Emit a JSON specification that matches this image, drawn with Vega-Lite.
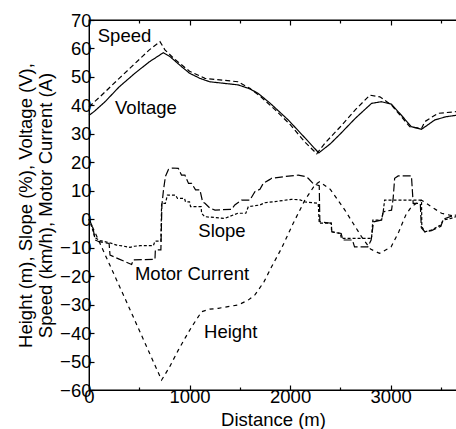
{
  "$schema": "https://vega.github.io/schema/vega-lite/v6.json",
  "autosize": "none",
  "padding": {"left": 89, "top": 20, "right": 0, "bottom": 39},
  "width": 368,
  "height": 370,
  "config": {
    "view": {"stroke": "#000", "strokeWidth": 1.3},
    "font": "Liberation Sans",
    "axis": {
      "labelFont": "Liberation Sans", "titleFont": "Liberation Sans",
      "labelFontSize": 18.5, "titleFontSize": 18.5, "titleFontWeight": "normal",
      "labelColor": "#000", "titleColor": "#000", "domainColor": "#000", "tickColor": "#000",
      "domain": true, "ticks": true,
      "domainWidth": 1, "tickWidth": 1.2, "grid": false
    }
  },
  "datasets": {
    "series": [
      {"s":"Voltage","d":0,"v":36.5},{"s":"Voltage","d":50,"v":37.8},{"s":"Voltage","d":160,"v":41.3},{"s":"Voltage","d":300,"v":46.5},{"s":"Voltage","d":457,"v":51.3},{"s":"Voltage","d":600,"v":55.3},{"s":"Voltage","d":739,"v":58.5},{"s":"Voltage","d":800,"v":57.3},{"s":"Voltage","d":921,"v":53.6},{"s":"Voltage","d":1000,"v":51.3},{"s":"Voltage","d":1103,"v":49.5},{"s":"Voltage","d":1200,"v":48.3},{"s":"Voltage","d":1484,"v":47.2},{"s":"Voltage","d":1600,"v":45.8},{"s":"Voltage","d":1683,"v":44.2},{"s":"Voltage","d":1800,"v":40.8},{"s":"Voltage","d":1981,"v":34.9},{"s":"Voltage","d":2150,"v":28.5},{"s":"Voltage","d":2285,"v":23.3},{"s":"Voltage","d":2400,"v":26.5},{"s":"Voltage","d":2500,"v":30.0},{"s":"Voltage","d":2650,"v":35.5},{"s":"Voltage","d":2810,"v":40.7},{"s":"Voltage","d":2909,"v":41.3},{"s":"Voltage","d":3009,"v":40.4},{"s":"Voltage","d":3100,"v":36.8},{"s":"Voltage","d":3207,"v":32.5},{"s":"Voltage","d":3307,"v":31.6},{"s":"Voltage","d":3440,"v":34.9},{"s":"Voltage","d":3550,"v":36.0},{"s":"Voltage","d":3650,"v":36.5},
      {"s":"Speed","d":0,"v":39.5},{"s":"Speed","d":109,"v":43.0},{"s":"Speed","d":300,"v":49.5},{"s":"Speed","d":424,"v":53.6},{"s":"Speed","d":600,"v":59.5},{"s":"Speed","d":706,"v":62.4},{"s":"Speed","d":755,"v":59.5},{"s":"Speed","d":850,"v":56.3},{"s":"Speed","d":1000,"v":52.0},{"s":"Speed","d":1153,"v":49.5},{"s":"Speed","d":1481,"v":48.3},{"s":"Speed","d":1600,"v":46.0},{"s":"Speed","d":1700,"v":43.3},{"s":"Speed","d":1850,"v":38.5},{"s":"Speed","d":2000,"v":33.3},{"s":"Speed","d":2150,"v":27.0},{"s":"Speed","d":2265,"v":23.0},{"s":"Speed","d":2346,"v":26.7},{"s":"Speed","d":2500,"v":32.5},{"s":"Speed","d":2650,"v":38.5},{"s":"Speed","d":2793,"v":43.6},{"s":"Speed","d":2893,"v":43.0},{"s":"Speed","d":3009,"v":40.1},{"s":"Speed","d":3191,"v":32.5},{"s":"Speed","d":3307,"v":31.9},{"s":"Speed","d":3340,"v":34.3},{"s":"Speed","d":3470,"v":37.2},{"s":"Speed","d":3650,"v":37.8},
      {"s":"Height","d":0,"v":0},{"s":"Height","d":360,"v":-28},{"s":"Height","d":722,"v":-56.5},{"s":"Height","d":800,"v":-52},{"s":"Height","d":888,"v":-46},{"s":"Height","d":960,"v":-41.5},{"s":"Height","d":1021,"v":-37.8},{"s":"Height","d":1120,"v":-32.5},{"s":"Height","d":1200,"v":-31.6},{"s":"Height","d":1286,"v":-31.3},{"s":"Height","d":1484,"v":-30.1},{"s":"Height","d":1580,"v":-28.5},{"s":"Height","d":1650,"v":-26.6},{"s":"Height","d":1740,"v":-22},{"s":"Height","d":1816,"v":-16.7},{"s":"Height","d":1915,"v":-10.2},{"s":"Height","d":2030,"v":-1.5},{"s":"Height","d":2147,"v":6.7},{"s":"Height","d":2246,"v":12.0},{"s":"Height","d":2293,"v":13.2},{"s":"Height","d":2400,"v":10.5},{"s":"Height","d":2545,"v":3.2},{"s":"Height","d":2710,"v":-6.1},{"s":"Height","d":2800,"v":-10.5},{"s":"Height","d":2889,"v":-12.0},{"s":"Height","d":3005,"v":-9.7},{"s":"Height","d":3080,"v":-4.5},{"s":"Height","d":3151,"v":1.5},{"s":"Height","d":3207,"v":4.4},{"s":"Height","d":3307,"v":6.7},{"s":"Height","d":3400,"v":4.5},{"s":"Height","d":3506,"v":2.1},{"s":"Height","d":3650,"v":0.9},
      {"s":"Slope","d":0,"v":0},{"s":"Slope","d":30,"v":-3},{"s":"Slope","d":60,"v":-6.5},{"s":"Slope","d":110,"v":-7.5},{"s":"Slope","d":200,"v":-8.2},{"s":"Slope","d":275,"v":-9.1},{"s":"Slope","d":350,"v":-9.5},{"s":"Slope","d":408,"v":-9.9},{"s":"Slope","d":450,"v":-9.5},{"s":"Slope","d":507,"v":-9.3},{"s":"Slope","d":640,"v":-9.3},{"s":"Slope","d":656,"v":-7.7},{"s":"Slope","d":715,"v":-7.7},{"s":"Slope","d":722,"v":5.6},{"s":"Slope","d":760,"v":5.6},{"s":"Slope","d":780,"v":8.5},{"s":"Slope","d":860,"v":8.5},{"s":"Slope","d":880,"v":7.3},{"s":"Slope","d":950,"v":7.3},{"s":"Slope","d":960,"v":6.1},{"s":"Slope","d":1000,"v":6.1},{"s":"Slope","d":1010,"v":4.4},{"s":"Slope","d":1115,"v":4.4},{"s":"Slope","d":1120,"v":2.1},{"s":"Slope","d":1150,"v":0.9},{"s":"Slope","d":1350,"v":0.3},{"s":"Slope","d":1400,"v":1.0},{"s":"Slope","d":1480,"v":2.1},{"s":"Slope","d":1560,"v":2.1},{"s":"Slope","d":1584,"v":4.4},{"s":"Slope","d":1700,"v":5.0},{"s":"Slope","d":1750,"v":5.8},{"s":"Slope","d":1850,"v":6.2},{"s":"Slope","d":2015,"v":7.0},{"s":"Slope","d":2100,"v":6.8},{"s":"Slope","d":2147,"v":6.1},{"s":"Slope","d":2280,"v":5.6},{"s":"Slope","d":2290,"v":-1.4},{"s":"Slope","d":2410,"v":-1.4},{"s":"Slope","d":2412,"v":-4.4},{"s":"Slope","d":2500,"v":-5.0},{"s":"Slope","d":2510,"v":-6.7},{"s":"Slope","d":2810,"v":-6.7},{"s":"Slope","d":2823,"v":-0.3},{"s":"Slope","d":2910,"v":-0.3},{"s":"Slope","d":2926,"v":2.6},{"s":"Slope","d":2940,"v":6.7},{"s":"Slope","d":3307,"v":6.7},{"s":"Slope","d":3310,"v":-2.6},{"s":"Slope","d":3340,"v":-4.4},{"s":"Slope","d":3406,"v":-3.8},{"s":"Slope","d":3500,"v":-2.0},{"s":"Slope","d":3522,"v":-0.3},{"s":"Slope","d":3600,"v":0.3},{"s":"Slope","d":3650,"v":0.9},
      {"s":"Current","d":0,"v":0},{"s":"Current","d":40,"v":-3},{"s":"Current","d":60,"v":-7.3},{"s":"Current","d":100,"v":-7.9},{"s":"Current","d":200,"v":-8.5},{"s":"Current","d":209,"v":-12.6},{"s":"Current","d":300,"v":-14},{"s":"Current","d":424,"v":-15.9},{"s":"Current","d":441,"v":-14.3},{"s":"Current","d":656,"v":-14.1},{"s":"Current","d":660,"v":-10.8},{"s":"Current","d":715,"v":-10.8},{"s":"Current","d":725,"v":5.0},{"s":"Current","d":740,"v":10},{"s":"Current","d":760,"v":15},{"s":"Current","d":790,"v":17.5},{"s":"Current","d":830,"v":18.0},{"s":"Current","d":888,"v":17.9},{"s":"Current","d":920,"v":15.5},{"s":"Current","d":954,"v":15.5},{"s":"Current","d":990,"v":12.6},{"s":"Current","d":1021,"v":12.6},{"s":"Current","d":1060,"v":10.3},{"s":"Current","d":1103,"v":10.3},{"s":"Current","d":1130,"v":6.1},{"s":"Current","d":1153,"v":5.6},{"s":"Current","d":1200,"v":4.0},{"s":"Current","d":1253,"v":3.2},{"s":"Current","d":1418,"v":3.5},{"s":"Current","d":1450,"v":5.0},{"s":"Current","d":1518,"v":6.7},{"s":"Current","d":1600,"v":6.7},{"s":"Current","d":1650,"v":9.7},{"s":"Current","d":1700,"v":10.5},{"s":"Current","d":1733,"v":12.6},{"s":"Current","d":1800,"v":14.0},{"s":"Current","d":1816,"v":14.4},{"s":"Current","d":1950,"v":15.0},{"s":"Current","d":2081,"v":15.5},{"s":"Current","d":2150,"v":15.0},{"s":"Current","d":2180,"v":14.4},{"s":"Current","d":2230,"v":12.5},{"s":"Current","d":2290,"v":11.8},{"s":"Current","d":2296,"v":-0.9},{"s":"Current","d":2410,"v":-1.4},{"s":"Current","d":2415,"v":-4.4},{"s":"Current","d":2508,"v":-5.0},{"s":"Current","d":2525,"v":-7.3},{"s":"Current","d":2620,"v":-7.3},{"s":"Current","d":2641,"v":-9.7},{"s":"Current","d":2773,"v":-9.7},{"s":"Current","d":2806,"v":-7.3},{"s":"Current","d":2830,"v":-0.9},{"s":"Current","d":2909,"v":-0.3},{"s":"Current","d":2926,"v":2.6},{"s":"Current","d":3009,"v":3.2},{"s":"Current","d":3025,"v":7.3},{"s":"Current","d":3040,"v":14.4},{"s":"Current","d":3075,"v":15.2},{"s":"Current","d":3207,"v":15.2},{"s":"Current","d":3224,"v":5.6},{"s":"Current","d":3295,"v":5.6},{"s":"Current","d":3305,"v":-3.0},{"s":"Current","d":3340,"v":-4.4},{"s":"Current","d":3406,"v":-4.0},{"s":"Current","d":3500,"v":-2.5},{"s":"Current","d":3522,"v":0.0},{"s":"Current","d":3600,"v":1.0},{"s":"Current","d":3650,"v":1.5}
    ],
    "labels": [
      {"label":"Speed","d":87,"v":62.4},
      {"label":"Voltage","d":259,"v":36.9},
      {"label":"Slope","d":1087,"v":-6.1},
      {"label":"Motor Current","d":457,"v":-21.4},
      {"label":"Height","d":1144,"v":-41.6}
    ]
  },
  "layer": [
    {
      "data": {"name": "series"},
      "mark": {"type": "line", "color": "#000", "strokeWidth": 1.2},
      "encoding": {
        "x": {"field": "d", "type": "quantitative",
          "scale": {"domain": [0, 3660], "nice": false, "zero": false},
          "axis": {"orient": "bottom", "title": "Distance (m)", "titlePadding": 3, "format": "d",
            "values": [0, 500, 1000, 1500, 2000, 2500, 3000, 3500],
            "labelExpr": "datum.value % 1000 === 0 ? datum.label : ''",
            "tickSize": {"condition": {"test": "datum.value % 1000 === 0", "value": -5}, "value": -3},
            "labelPadding": 2, "labelFlush": false, "labelOverlap": false}},
        "y": {"field": "v", "type": "quantitative",
          "scale": {"domain": [-60, 70], "nice": false, "zero": false},
          "axis": {"orient": "left", "title": ["Height (m), Slope (%), Voltage (V),", "Speed (km/h), Motor Current (A)"],
            "values": [-60, -50, -40, -30, -20, -10, 0, 10, 20, 30, 40, 50, 60, 70],
            "tickSize": -5, "labelPadding": 3, "titlePadding": 4, "labelFlush": false, "labelOverlap": false}},
        "detail": {"field": "s"},
        "strokeDash": {"field": "s", "type": "nominal", "legend": null,
          "scale": {"domain": ["Voltage", "Speed", "Height", "Slope", "Current"],
            "range": [[1, 0], [5, 3], [4, 4], [3, 2], [8, 3]]}},
        "order": {"value": null}
      }
    },
    {
      "data": {"name": "labels"},
      "mark": {"type": "text", "align": "left", "baseline": "alphabetic", "fontSize": 18.5, "font": "Liberation Sans", "color": "#000"},
      "encoding": {
        "x": {"field": "d", "type": "quantitative",
          "axis": {"orient": "top", "title": null, "labels": false,
            "values": [0, 500, 1000, 1500, 2000, 2500, 3000, 3500],
            "tickSize": {"condition": {"test": "datum.value % 1000 === 0", "value": -5}, "value": -3}}},
        "y": {"field": "v", "type": "quantitative",
          "axis": {"orient": "left", "title": ["Height (m), Slope (%), Voltage (V),", "Speed (km/h), Motor Current (A)"],
            "values": [-60, -50, -40, -30, -20, -10, 0, 10, 20, 30, 40, 50, 60, 70],
            "tickSize": -5, "labelPadding": 3, "titlePadding": 4, "labelFlush": false, "labelOverlap": false}},
        "text": {"field": "label"}
      }
    }
  ]
}
